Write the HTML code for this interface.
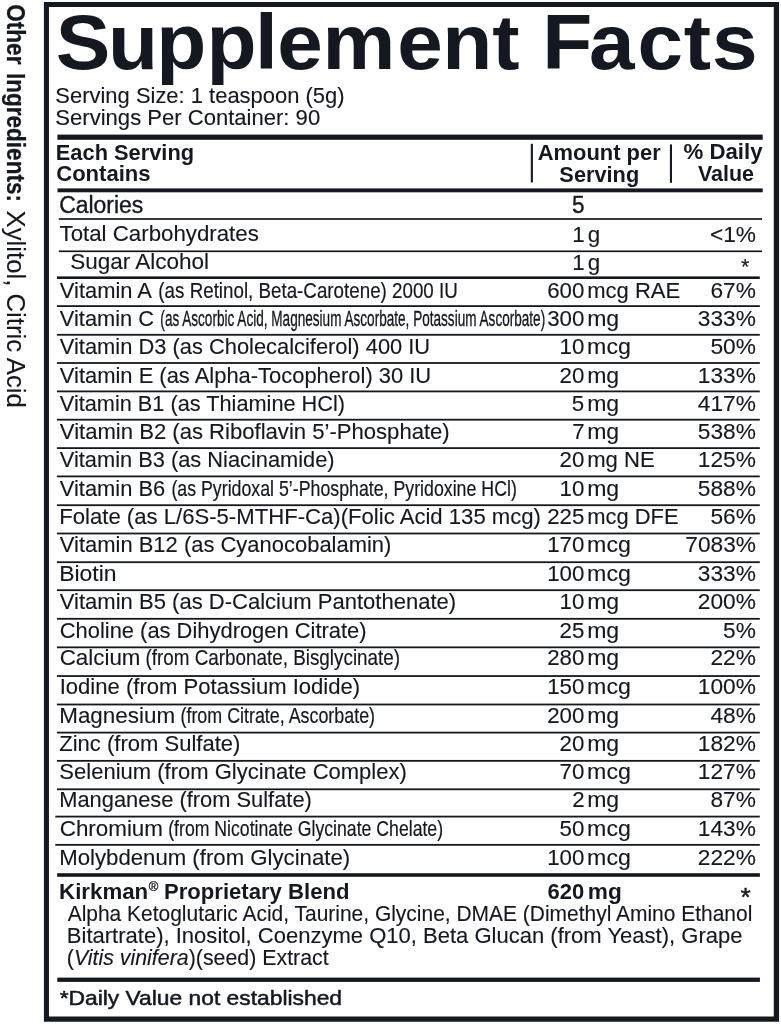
<!DOCTYPE html>
<html lang="en">
<head>
<meta charset="utf-8">
<title>Supplement Facts</title>
<style>
html,body{margin:0;padding:0;background:#fff;}
body{width:781px;height:1024px;overflow:hidden;}
svg{display:block;}
svg text{font-family:"Liberation Sans",Arial,Helvetica,sans-serif;fill:#141821;stroke:#141821;stroke-width:0;vector-effect:non-scaling-stroke;stroke-linejoin:round;white-space:pre;}
svg rect,svg path{fill:#141821;}
</style>
</head>
<body>
<svg width="781" height="1024" viewBox="0 0 781 1024">
<path fill-rule="evenodd" d="M43.9 1.9H779.05V1021.65H43.9Z M48.949999999999996 6.949999999999999H773.8V1016.55H48.949999999999996Z"/>
<rect x="57.40" y="134.60" width="705.30" height="5.20"/>
<rect x="530.80" y="143.80" width="2.10" height="38.60"/>
<rect x="669.90" y="144.40" width="2.10" height="38.40"/>
<rect x="57.50" y="188.40" width="705.20" height="3.90"/>
<rect x="58.80" y="218.15" width="703.20" height="1.70"/>
<rect x="58.80" y="250.45" width="703.20" height="1.70"/>
<rect x="56.90" y="276.40" width="702.90" height="2.60"/>
<rect x="56.90" y="305.20" width="702.90" height="1.80"/>
<rect x="56.90" y="333.90" width="702.90" height="1.80"/>
<rect x="56.90" y="362.10" width="702.90" height="1.80"/>
<rect x="56.90" y="390.50" width="702.90" height="1.80"/>
<rect x="56.90" y="418.80" width="702.90" height="1.80"/>
<rect x="56.90" y="447.20" width="702.90" height="1.80"/>
<rect x="56.90" y="475.50" width="702.90" height="1.80"/>
<rect x="56.90" y="504.30" width="702.90" height="1.80"/>
<rect x="56.90" y="532.60" width="702.90" height="1.80"/>
<rect x="56.90" y="561.30" width="702.90" height="1.80"/>
<rect x="56.90" y="589.30" width="702.90" height="1.80"/>
<rect x="56.90" y="617.90" width="702.90" height="1.80"/>
<rect x="56.90" y="646.45" width="702.90" height="1.80"/>
<rect x="56.90" y="675.15" width="702.90" height="1.80"/>
<rect x="56.90" y="703.60" width="702.90" height="1.80"/>
<rect x="56.90" y="731.70" width="702.90" height="1.80"/>
<rect x="56.90" y="759.95" width="702.90" height="1.80"/>
<rect x="56.90" y="788.40" width="702.90" height="1.80"/>
<rect x="55.30" y="815.70" width="704.50" height="1.80"/>
<rect x="55.30" y="843.95" width="704.50" height="1.80"/>
<rect x="57.20" y="873.20" width="702.70" height="3.60"/>
<rect x="57.30" y="977.60" width="702.60" height="4.30"/>
<text transform="scale(1.05 1)" x="53.09 102.90 148.84 196.74 242.93 264.17 307.22 378.27 421.14 468.81 498.81 516.48 560.92 607.10 651.10 678.12" y="68.5" font-size="78" font-weight="700">Supplement Facts</text>
<text transform="translate(55.37 102.60) scale(0.9981 1)" font-size="22" style="stroke-width:0.13px">Serving Size: 1 teaspoon (5g)</text>
<text transform="translate(55.36 124.60) scale(1.0035 1)" font-size="22" style="stroke-width:0.13px">Servings Per Container: 90</text>
<text transform="translate(55.81 159.65) scale(0.9927 1)" font-size="22" font-weight="700">Each Serving</text>
<text transform="translate(56.20 181.30) scale(1.0038 1)" font-size="22" font-weight="700">Contains</text>
<text transform="translate(537.70 159.65) scale(0.9967 1)" font-size="22" font-weight="700">Amount per</text>
<text transform="translate(559.36 181.50) scale(0.9898 1)" font-size="22" font-weight="700">Serving</text>
<text transform="translate(683.49 159.40) scale(1.0116 1)" font-size="22" font-weight="700">% Daily</text>
<text transform="translate(697.96 181.20) scale(0.9752 1)" font-size="22" font-weight="700">Value</text>
<text transform="translate(59.13 213.20) scale(0.9988 1)" font-size="23" style="stroke-width:0.35px">Calories</text>
<text transform="translate(571.89 213.20) scale(0.9814 1.05)" font-size="23" style="stroke-width:0.35px">5</text>
<text transform="translate(59.54 241.20) scale(1.0506 1)" font-size="21.2" style="stroke-width:0.13px">Total Carbohydrates</text>
<text transform="translate(572.13 241.50) scale(1.0519 1.07)" font-size="21.2" style="stroke-width:0.13px">1</text>
<text transform="translate(587.71 241.50) scale(1.0566 1)" font-size="21.2" style="stroke-width:0.13px">g</text>
<text transform="translate(709.90 241.50) scale(1.0708 1.07)" font-size="21.2" style="stroke-width:0.13px">&lt;1%</text>
<text transform="translate(70.20 269.40) scale(1.0626 1)" font-size="21.2" style="stroke-width:0.13px">Sugar Alcohol</text>
<text transform="translate(572.13 269.50) scale(1.0519 1.07)" font-size="21.2" style="stroke-width:0.13px">1</text>
<text transform="translate(587.71 269.50) scale(1.0566 1)" font-size="21.2" style="stroke-width:0.13px">g</text>
<text transform="translate(59.81 297.70) scale(1.0341 1)" font-size="21.2" style="stroke-width:0.13px">Vitamin A</text>
<text transform="translate(158.36 297.70) scale(0.8859 1)" font-size="21.2" style="stroke-width:0.18px">(as Retinol, Beta-Carotene) 2000 IU</text>
<text transform="translate(547.15 297.70) scale(1.0519 1.07)" font-size="21.2" style="stroke-width:0.13px">600</text>
<text transform="translate(587.20 297.70) scale(1.0399 1)" font-size="21.2" style="stroke-width:0.13px">mcg RAE</text>
<text transform="translate(710.43 297.70) scale(1.0708 1.07)" font-size="21.2" style="stroke-width:0.13px">67%</text>
<text transform="translate(59.81 325.80) scale(1.0302 1)" font-size="21.2" style="stroke-width:0.13px">Vitamin C</text>
<text transform="translate(160.36 325.80) scale(0.6406 1)" font-size="21.2" style="stroke-width:0.29px">(as Ascorbic Acid, Magnesium Ascorbate, Potassium Ascorbate)</text>
<text transform="translate(547.15 325.80) scale(1.0519 1.07)" font-size="21.2" style="stroke-width:0.13px">300</text>
<text transform="translate(587.13 325.80) scale(1.0895 1)" font-size="21.2" style="stroke-width:0.13px">mg</text>
<text transform="translate(697.85 325.80) scale(1.0708 1.07)" font-size="21.2" style="stroke-width:0.13px">333%</text>
<text transform="translate(59.81 353.80) scale(1.0324 1)" font-size="21.2" style="stroke-width:0.13px">Vitamin D3 (as Cholecalciferol) 400 IU</text>
<text transform="translate(559.51 353.80) scale(1.0519 1.07)" font-size="21.2" style="stroke-width:0.13px">10</text>
<text transform="translate(587.12 353.80) scale(1.0946 1)" font-size="21.2" style="stroke-width:0.13px">mcg</text>
<text transform="translate(710.43 353.80) scale(1.0708 1.07)" font-size="21.2" style="stroke-width:0.13px">50%</text>
<text transform="translate(59.80 382.60) scale(1.0352 1)" font-size="21.2" style="stroke-width:0.13px">Vitamin E (as Alpha-Tocopherol) 30 IU</text>
<text transform="translate(559.51 382.60) scale(1.0519 1.07)" font-size="21.2" style="stroke-width:0.13px">20</text>
<text transform="translate(587.13 382.60) scale(1.0895 1)" font-size="21.2" style="stroke-width:0.13px">mg</text>
<text transform="translate(697.85 382.60) scale(1.0708 1.07)" font-size="21.2" style="stroke-width:0.13px">133%</text>
<text transform="translate(59.81 410.90) scale(1.0250 1)" font-size="21.2" style="stroke-width:0.13px">Vitamin B1 (as Thiamine HCl)</text>
<text transform="translate(571.87 410.90) scale(1.0519 1.07)" font-size="21.2" style="stroke-width:0.13px">5</text>
<text transform="translate(587.13 410.90) scale(1.0895 1)" font-size="21.2" style="stroke-width:0.13px">mg</text>
<text transform="translate(697.85 410.90) scale(1.0708 1.07)" font-size="21.2" style="stroke-width:0.13px">417%</text>
<text transform="translate(59.80 439.05) scale(1.0421 1)" font-size="21.2" style="stroke-width:0.13px">Vitamin B2 (as Riboflavin 5’-Phosphate)</text>
<text transform="translate(572.13 439.05) scale(1.0519 1.07)" font-size="21.2" style="stroke-width:0.13px">7</text>
<text transform="translate(587.13 439.05) scale(1.0895 1)" font-size="21.2" style="stroke-width:0.13px">mg</text>
<text transform="translate(697.85 439.05) scale(1.0708 1.07)" font-size="21.2" style="stroke-width:0.13px">538%</text>
<text transform="translate(59.81 467.10) scale(1.0299 1)" font-size="21.2" style="stroke-width:0.13px">Vitamin B3 (as Niacinamide)</text>
<text transform="translate(559.51 467.10) scale(1.0519 1.07)" font-size="21.2" style="stroke-width:0.13px">20</text>
<text transform="translate(587.20 467.10) scale(1.0421 1)" font-size="21.2" style="stroke-width:0.13px">mg NE</text>
<text transform="translate(697.85 467.10) scale(1.0708 1.07)" font-size="21.2" style="stroke-width:0.13px">125%</text>
<text transform="translate(59.81 496.00) scale(1.0324 1)" font-size="21.2" style="stroke-width:0.13px">Vitamin B6</text>
<text transform="translate(171.42 496.00) scale(0.8380 1)" font-size="21.2" style="stroke-width:0.20px">(as Pyridoxal 5’-Phosphate, Pyridoxine HCl)</text>
<text transform="translate(559.51 496.00) scale(1.0519 1.07)" font-size="21.2" style="stroke-width:0.13px">10</text>
<text transform="translate(587.13 496.00) scale(1.0895 1)" font-size="21.2" style="stroke-width:0.13px">mg</text>
<text transform="translate(697.85 496.00) scale(1.0708 1.07)" font-size="21.2" style="stroke-width:0.13px">588%</text>
<text transform="translate(59.24 524.30) scale(1.0438 1)" font-size="21.2" style="stroke-width:0.13px">Folate (as L/6S-5-MTHF-Ca)(Folic Acid 135 mcg)</text>
<text transform="translate(547.15 524.30) scale(1.0519 1.07)" font-size="21.2" style="stroke-width:0.13px">225</text>
<text transform="translate(587.21 524.30) scale(1.0346 1)" font-size="21.2" style="stroke-width:0.13px">mcg DFE</text>
<text transform="translate(710.43 524.30) scale(1.0708 1.07)" font-size="21.2" style="stroke-width:0.13px">56%</text>
<text transform="translate(59.80 552.10) scale(1.0362 1)" font-size="21.2" style="stroke-width:0.13px">Vitamin B12 (as Cyanocobalamin)</text>
<text transform="translate(547.15 552.10) scale(1.0519 1.07)" font-size="21.2" style="stroke-width:0.13px">170</text>
<text transform="translate(587.12 552.10) scale(1.0946 1)" font-size="21.2" style="stroke-width:0.13px">mcg</text>
<text transform="translate(685.27 552.10) scale(1.0708 1.07)" font-size="21.2" style="stroke-width:0.13px">7083%</text>
<text transform="translate(59.17 580.70) scale(1.0809 1)" font-size="21.2" style="stroke-width:0.13px">Biotin</text>
<text transform="translate(547.15 580.70) scale(1.0519 1.07)" font-size="21.2" style="stroke-width:0.13px">100</text>
<text transform="translate(587.12 580.70) scale(1.0946 1)" font-size="21.2" style="stroke-width:0.13px">mcg</text>
<text transform="translate(697.85 580.70) scale(1.0708 1.07)" font-size="21.2" style="stroke-width:0.13px">333%</text>
<text transform="translate(59.80 609.40) scale(1.0400 1)" font-size="21.2" style="stroke-width:0.13px">Vitamin B5 (as D-Calcium Pantothenate)</text>
<text transform="translate(559.51 609.40) scale(1.0519 1.07)" font-size="21.2" style="stroke-width:0.13px">10</text>
<text transform="translate(587.13 609.40) scale(1.0895 1)" font-size="21.2" style="stroke-width:0.13px">mg</text>
<text transform="translate(697.85 609.40) scale(1.0708 1.07)" font-size="21.2" style="stroke-width:0.13px">200%</text>
<text transform="translate(59.73 637.50) scale(1.0342 1)" font-size="21.2" style="stroke-width:0.13px">Choline (as Dihydrogen Citrate)</text>
<text transform="translate(559.51 637.50) scale(1.0519 1.07)" font-size="21.2" style="stroke-width:0.13px">25</text>
<text transform="translate(587.13 637.50) scale(1.0895 1)" font-size="21.2" style="stroke-width:0.13px">mg</text>
<text transform="translate(723.01 637.50) scale(1.0708 1.07)" font-size="21.2" style="stroke-width:0.13px">5%</text>
<text transform="translate(59.71 665.45) scale(1.0555 1)" font-size="21.2" style="stroke-width:0.13px">Calcium</text>
<text transform="translate(145.45 665.45) scale(0.8902 1)" font-size="21.2" style="stroke-width:0.18px">(from Carbonate, Bisglycinate)</text>
<text transform="translate(547.15 665.45) scale(1.0519 1.07)" font-size="21.2" style="stroke-width:0.13px">280</text>
<text transform="translate(587.13 665.45) scale(1.0895 1)" font-size="21.2" style="stroke-width:0.13px">mg</text>
<text transform="translate(710.43 665.45) scale(1.0708 1.07)" font-size="21.2" style="stroke-width:0.13px">22%</text>
<text transform="translate(59.68 693.80) scale(1.0418 1)" font-size="21.2" style="stroke-width:0.13px">Iodine (from Potassium Iodide)</text>
<text transform="translate(547.15 693.80) scale(1.0519 1.07)" font-size="21.2" style="stroke-width:0.13px">150</text>
<text transform="translate(587.12 693.80) scale(1.0946 1)" font-size="21.2" style="stroke-width:0.13px">mcg</text>
<text transform="translate(697.85 693.80) scale(1.0708 1.07)" font-size="21.2" style="stroke-width:0.13px">100%</text>
<text transform="translate(59.21 722.85) scale(1.0580 1)" font-size="21.2" style="stroke-width:0.13px">Magnesium</text>
<text transform="translate(180.51 722.85) scale(0.8428 1)" font-size="21.2" style="stroke-width:0.20px">(from Citrate, Ascorbate)</text>
<text transform="translate(547.15 722.85) scale(1.0519 1.07)" font-size="21.2" style="stroke-width:0.13px">200</text>
<text transform="translate(587.13 722.85) scale(1.0895 1)" font-size="21.2" style="stroke-width:0.13px">mg</text>
<text transform="translate(710.43 722.85) scale(1.0708 1.07)" font-size="21.2" style="stroke-width:0.13px">48%</text>
<text transform="translate(59.28 751.20) scale(1.0384 1)" font-size="21.2" style="stroke-width:0.13px">Zinc (from Sulfate)</text>
<text transform="translate(559.51 751.20) scale(1.0519 1.07)" font-size="21.2" style="stroke-width:0.13px">20</text>
<text transform="translate(587.13 751.20) scale(1.0895 1)" font-size="21.2" style="stroke-width:0.13px">mg</text>
<text transform="translate(697.85 751.20) scale(1.0708 1.07)" font-size="21.2" style="stroke-width:0.13px">182%</text>
<text transform="translate(59.32 779.40) scale(1.0391 1)" font-size="21.2" style="stroke-width:0.13px">Selenium (from Glycinate Complex)</text>
<text transform="translate(559.51 779.40) scale(1.0519 1.07)" font-size="21.2" style="stroke-width:0.13px">70</text>
<text transform="translate(587.12 779.40) scale(1.0946 1)" font-size="21.2" style="stroke-width:0.13px">mcg</text>
<text transform="translate(697.85 779.40) scale(1.0708 1.07)" font-size="21.2" style="stroke-width:0.13px">127%</text>
<text transform="translate(59.26 807.25) scale(1.0315 1)" font-size="21.2" style="stroke-width:0.13px">Manganese (from Sulfate)</text>
<text transform="translate(572.13 807.25) scale(1.0519 1.07)" font-size="21.2" style="stroke-width:0.13px">2</text>
<text transform="translate(587.13 807.25) scale(1.0895 1)" font-size="21.2" style="stroke-width:0.13px">mg</text>
<text transform="translate(710.43 807.25) scale(1.0708 1.07)" font-size="21.2" style="stroke-width:0.13px">87%</text>
<text transform="translate(59.71 836.30) scale(1.0569 1)" font-size="21.2" style="stroke-width:0.13px">Chromium</text>
<text transform="translate(168.22 836.30) scale(0.8339 1)" font-size="21.2" style="stroke-width:0.20px">(from Nicotinate Glycinate Chelate)</text>
<text transform="translate(559.51 836.30) scale(1.0519 1.07)" font-size="21.2" style="stroke-width:0.13px">50</text>
<text transform="translate(587.12 836.30) scale(1.0946 1)" font-size="21.2" style="stroke-width:0.13px">mcg</text>
<text transform="translate(697.85 836.30) scale(1.0708 1.07)" font-size="21.2" style="stroke-width:0.13px">143%</text>
<text transform="translate(59.23 864.50) scale(1.0470 1)" font-size="21.2" style="stroke-width:0.13px">Molybdenum (from Glycinate)</text>
<text transform="translate(547.15 864.50) scale(1.0519 1.07)" font-size="21.2" style="stroke-width:0.13px">100</text>
<text transform="translate(587.12 864.50) scale(1.0946 1)" font-size="21.2" style="stroke-width:0.13px">mcg</text>
<text transform="translate(697.85 864.50) scale(1.0708 1.07)" font-size="21.2" style="stroke-width:0.13px">222%</text>
<text transform="translate(59.08 898.80) scale(1.0123 1)" font-size="22" font-weight="700">Kirkman</text>
<text transform="translate(148.79 891.30) scale(1.0400 1)" font-size="12.5" style="stroke-width:0.30px">®</text>
<text transform="translate(163.99 898.80) scale(1.0047 1)" font-size="22" font-weight="700">Proprietary Blend</text>
<text transform="translate(547.55 898.80) scale(1.0000 1)" font-size="22" font-weight="700">620</text>
<text transform="translate(587.75 898.80) scale(1.0300 1)" font-size="22" font-weight="700">mg</text>
<text transform="translate(67.66 920.70) scale(0.9890 1)" font-size="21.2" style="stroke-width:0.13px">Alpha Ketoglutaric Acid, Taurine, Glycine, DMAE (Dimethyl Amino Ethanol</text>
<text transform="translate(66.84 942.60) scale(1.0393 1)" font-size="21.2" style="stroke-width:0.13px">Bitartrate), Inositol, Coenzyme Q10, Beta Glucan (from Yeast), Grape</text>
<text transform="translate(66.80 964.70) scale(1.0084 1)" font-size="21.2" style="stroke-width:0.13px">(<tspan font-style="italic">Vitis vinifera</tspan>)(seed) Extract</text>
<text transform="translate(59.63 1004.50) scale(1.0919 1)" font-size="20.9" style="stroke-width:0.55px">*Daily Value not established</text>
<text transform="translate(741.10 274.20)" font-size="21.5" style="stroke-width:0.2px">*</text>
<text transform="translate(740.58 905.95)" font-size="26" style="stroke-width:0.45px">*</text>
<g transform="translate(7.4 0) rotate(90)"><text transform="translate(4.23 0) scale(0.8691 1)" font-size="26" font-weight="700" style="stroke-width:0.25px">Other</text><text transform="translate(72.98 0) scale(0.8671 1)" font-size="26" font-weight="700" style="stroke-width:0.25px">Ingredients:</text><text transform="translate(210.56 0) scale(0.9893 1)" font-size="26" style="stroke-width:0.12px">Xylitol, Citric Acid</text></g>
</svg>
</body>
</html>
